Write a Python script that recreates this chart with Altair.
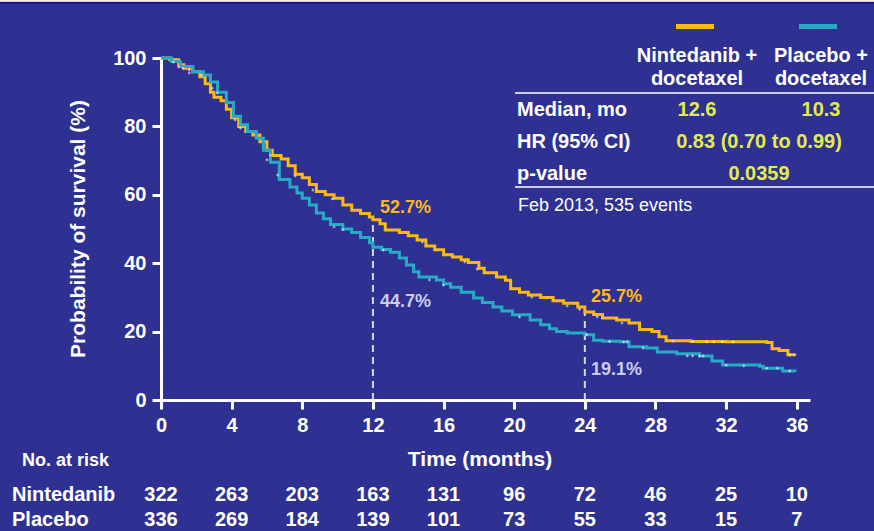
import altair as alt
import pandas as pd

# ---- Kaplan-Meier estimates (months, % surviving) ----
nint_t = [0, 0.5, 1.0, 1.3, 1.8, 2.2, 2.5, 2.8, 3.0, 3.4, 3.7, 4.0, 4.4, 4.8, 5.2, 5.6, 6.0,
          6.3, 6.8, 7.2, 7.6, 8.0, 8.4, 8.8, 9.3, 9.8, 10.3, 10.8, 11.3, 11.8, 12.0, 12.4,
          12.7, 13.5, 14.0, 14.5, 15.0, 15.5, 16.0, 16.5, 17.0, 17.4, 18.0, 18.3, 19.0, 19.5,
          19.8, 20.3, 20.8, 21.5, 22.2, 22.8, 23.6, 24.0, 24.5, 25.0, 25.8, 26.5, 27.1, 27.8,
          28.2, 28.6, 30.0, 32.0, 34.3, 34.6, 35.0, 35.5, 35.9]
nint_s = [100, 99.5, 98, 97, 96, 94.5, 92.5, 90, 88.5, 87.5, 85, 82.5, 80, 78.5, 77.5, 75.5, 73,
          71.5, 70.5, 68.5, 66, 65, 63, 61, 60, 59, 57, 55.5, 54.5, 53.5, 52.7, 51.5,
          49.7, 49, 48, 46.8, 45, 43.9, 42.5, 41.8, 41, 40.2, 38.5, 37.2, 36, 35,
          32.5, 31.5, 30.7, 30, 29, 28.3, 27.2, 25.7, 25, 24, 23.4, 22.5, 20.6, 20,
          18.5, 17.3, 17.1, 17, 16.8, 15, 14.5, 13.2, 13.2]

plac_t = [0, 0.6, 1.1, 1.8, 2.4, 2.8, 3.2, 3.7, 4.1, 4.5, 4.9, 5.4, 5.8, 6.2, 6.7, 7.3, 7.7,
          8.0, 8.4, 8.8, 9.2, 9.6, 10.3, 10.8, 11.3, 11.8, 12.0, 12.5, 13.0, 13.5, 13.9, 14.3,
          14.6, 15.6, 16.0, 16.4, 17.0, 17.7, 18.2, 18.8, 19.3, 19.9, 20.9, 21.5, 22.0, 22.4,
          23.0, 24.0, 24.5, 25.0, 26.0, 26.5, 27.5, 28.1, 29.2, 30.5, 31.2, 31.8, 33.9, 34.1,
          35.2, 35.9]
plac_s = [100, 99, 97.5, 96, 95, 93, 90, 87, 83, 80.5, 78.5, 76.5, 73, 69.5, 64.5, 62.3, 60.5,
          59, 57, 54.7, 53, 51.3, 50, 49, 47.5, 46, 44.7, 44, 43.2, 41.5, 39.5, 37.5,
          36, 35.1, 34, 33, 31.5, 29.8, 28.5, 27.2, 26, 24.9, 23.4, 22, 20.8, 20,
          19.6, 19.1, 17.5, 17.2, 17, 15.6, 15.2, 14.0, 13.5, 12.9, 11.4, 10.2, 9.9, 9.3,
          8.5, 8.2]

# censored observations
nint_cens_t = [1.25, 1.6, 4.5, 6.2, 7.6, 8.6, 9.7, 14.8, 17.2, 17.9, 21.0, 23.0, 23.7, 24.7,
               26.1, 29.0, 30.1, 30.9, 31.3, 31.8, 32.4, 35.6, 35.9]
nint_cens_s = [97, 95.6, 79.5, 71.6, 65.5, 61.4, 58.8, 46.2, 40.4, 38.3, 30.1, 27.5, 26.5, 24.3,
               22.5, 17.2, 17.1, 17, 17, 17, 17, 13.2, 13.2]
plac_cens_t = [0.7, 1.0, 1.6, 2.3, 2.9, 3.2, 4.2, 6.0, 6.6, 9.8, 10.3, 12.6, 15.2, 16.0, 20.3,
               24.1, 25.4, 26.2, 26.4, 27.3, 29.8, 30.1, 30.5, 30.7, 32.0, 33.0, 34.3, 34.9, 35.6]
plac_cens_s = [98.8, 97.4, 96.5, 95, 91.2, 89.8, 81.9, 70.2, 65.8, 50.6, 49.8, 43.8, 35.1, 33.6,
               24.3, 19.1, 17.1, 17, 17, 15.2, 12.9, 12.9, 12.9, 12.9, 10.2, 10.0, 9.3, 9.3, 8.5]

# landmark survival rates
landmark_months = [12, 24]
nint_pct = [52.7, 25.7]
plac_pct = [44.7, 19.1]

# number at risk
risk_months = [0, 4, 8, 12, 16, 20, 24, 28, 32, 36]
nint_risk = [322, 263, 203, 163, 131, 96, 72, 46, 25, 10]
plac_risk = [336, 269, 184, 139, 101, 73, 55, 33, 15, 7]

x_ticks = [0, 4, 8, 12, 16, 20, 24, 28, 32, 36]
y_ticks = [0, 20, 40, 60, 80, 100]

BG = "#2E3192"
ORANGE = "#FDB913"
TEAL = "#27AAC6"
PALE = "#C9CCEE"
LIME = "#E2EC4C"
FONT = "Liberation Sans"

# plot area origin on the page
X0, Y0 = 161, 58
W, H = 649, 342


def px(x):
    return x - X0


def py(y):
    return y - Y0


def label(text, x, y, size=20, color="white", weight="bold", align="left", angle=0):
    return alt.Chart(pd.DataFrame({"txt": [text]})).mark_text(
        font=FONT, fontSize=size, fontWeight=weight, color=color, align=align,
        baseline="middle", angle=angle
    ).encode(x=alt.value(px(x)), y=alt.value(py(y)), text="txt:N")


def hline(x1, x2, y, color, width):
    return alt.Chart(pd.DataFrame({"d": [0]})).mark_rule(
        color=color, strokeWidth=width
    ).encode(x=alt.value(px(x1)), x2=alt.value(px(x2)), y=alt.value(py(y)))


curves = pd.concat([
    pd.DataFrame({"t": nint_t, "s": nint_s, "arm": "Nintedanib"}),
    pd.DataFrame({"t": plac_t, "s": plac_s, "arm": "Placebo"}),
])
cens = pd.concat([
    pd.DataFrame({"t": nint_cens_t, "s": nint_cens_s}),
    pd.DataFrame({"t": plac_cens_t, "s": plac_cens_s}),
])

xs = alt.Scale(domain=[0, 36.75], nice=False, zero=False)
ys = alt.Scale(domain=[0, 100], nice=False)
col = alt.Scale(domain=["Nintedanib", "Placebo"], range=[ORANGE, TEAL])

lines = alt.Chart(curves).mark_line(interpolate="step-after", strokeWidth=3).encode(
    x=alt.X("t:Q", scale=xs, axis=alt.Axis(values=x_ticks, title=None)),
    y=alt.Y("s:Q", scale=ys, axis=alt.Axis(values=y_ticks, title=None)),
    color=alt.Color("arm:N", scale=col, legend=None),
    detail="arm:N",
)

cens_marks = alt.Chart(cens).mark_point(
    shape="cross", filled=True, size=8, color="#EEF2FF", opacity=0.7
).encode(x=alt.X("t:Q", scale=xs), y=alt.Y("s:Q", scale=ys))

lm = pd.DataFrame({"t": landmark_months, "top": nint_pct, "zero": [0, 0]})
dashes = alt.Chart(lm).mark_rule(color="#D4D6EA", strokeWidth=2, strokeDash=[7, 5]).encode(
    x=alt.X("t:Q", scale=xs), y=alt.Y("zero:Q", scale=ys), y2="top:Q"
)

# number-at-risk rows aligned to the time axis
risk = pd.DataFrame({"t": risk_months, "n1": nint_risk, "n2": plac_risk})
risk_row1 = alt.Chart(risk).mark_text(
    font=FONT, fontSize=20, fontWeight="bold", color="white", baseline="middle"
).encode(x=alt.X("t:Q", scale=xs), y=alt.value(py(495)), text="n1:Q")
risk_row2 = alt.Chart(risk).mark_text(
    font=FONT, fontSize=20, fontWeight="bold", color="white", baseline="middle"
).encode(x=alt.X("t:Q", scale=xs), y=alt.value(py(520)), text="n2:Q")

layers = [
    dashes, lines, cens_marks, risk_row1, risk_row2,
    # landmark labels
    label(f"{nint_pct[0]}%", 380, 208, size=18, color=ORANGE),
    label(f"{plac_pct[0]}%", 380, 302, size=18, color=PALE),
    label(f"{nint_pct[1]}%", 591, 297, size=18, color=ORANGE),
    label(f"{plac_pct[1]}%", 591, 370, size=18, color=PALE),
    # axis titles
    label("Probability of survival (%)", 79, 229, size=21, align="center", angle=270),
    label("Time (months)", 480, 460, size=21, align="center"),
    label("No. at risk", 22, 461, size=18),
    label("Nintedanib", 12, 495),
    label("Placebo", 12, 520),
    # summary table
    hline(676, 714, 26.5, ORANGE, 5),
    hline(799, 837, 26.5, TEAL, 5),
    label("Nintedanib +", 697, 56, align="center"),
    label("docetaxel", 697, 79, align="center"),
    label("Placebo +", 821, 56, align="center"),
    label("docetaxel", 821, 79, align="center"),
    hline(515, 874, 93, PALE, 2),
    label("Median, mo", 517, 110),
    label("12.6", 697, 110, color=LIME, align="center"),
    label("10.3", 821, 110, color=LIME, align="center"),
    label("HR (95% CI)", 517, 142),
    label("0.83 (0.70 to 0.99)", 759, 142, color=LIME, align="center"),
    label("p-value", 517, 174),
    label("0.0359", 759, 174, color=LIME, align="center"),
    hline(515, 874, 187, PALE, 2),
    label("Feb 2013, 535 events", 518, 206, size=18, weight="normal"),
    # slide border at the top
    hline(0, 874, 0.5, "#F2F2E0", 1),
    hline(0, 874, 1.5, "#D8E070", 1),
    hline(0, 874, 3, "#1C1E6A", 2),
]

chart = alt.layer(*layers).properties(
    width=W, height=H, background=BG,
    padding={"left": X0, "top": Y0, "right": 874 - X0 - W, "bottom": 531 - Y0 - H},
    autosize=alt.AutoSizeParams(type="none"),
).configure_view(stroke=None).configure_axis(
    grid=False, labelFont=FONT, labelFontSize=20, labelFontWeight="bold",
    labelColor="white", domainColor="white", domainWidth=3, tickColor="white",
    tickWidth=3, tickSize=9, labelPadding=6, labelFlush=False,
)

chart.save("out.html", embed_options={"renderer": "svg", "actions": False})
